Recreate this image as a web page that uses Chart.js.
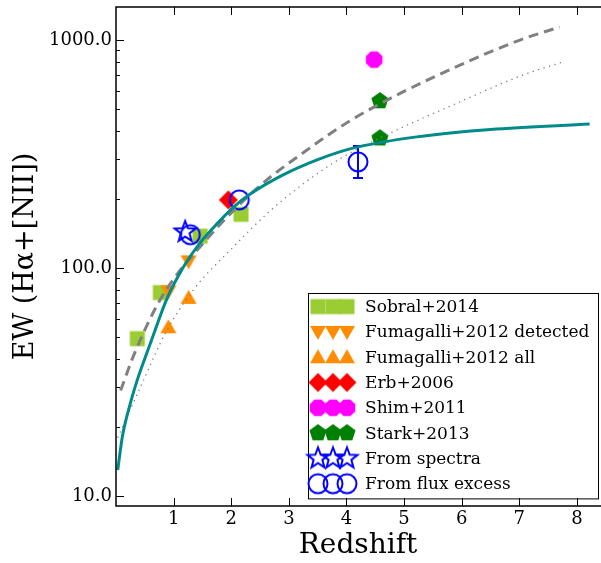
<!DOCTYPE html>
<html>
<head>
<meta charset="utf-8">
<script src="https://cdn.jsdelivr.net/npm/chart.js@4.4.1/dist/chart.umd.min.js"></script>
<style>
  html, body { margin: 0; padding: 0; background: #fff; }
  #wrap { width: 601px; height: 563px; }
</style>
</head>
<body>
<div id="wrap"><canvas id="myChart"></canvas></div>
<script>
// observed points (redshift, EW)
const sobralZ = [0.37, 0.77, 1.46, 2.17];
const sobralEW = [49, 78, 138, 172];
const fumDetZ = [0.91, 1.26];
const fumDetEW = [79, 107];
const fumAllZ = [0.91, 1.26];
const fumAllEW = [55, 74];
const erbZ = [1.95];
const erbEW = [199];
const shimZ = [4.48];
const shimEW = [820];
const starkZ = [4.58, 4.58];
const starkEW = [540, 371];
const specZ = [1.2];
const specEW = [144];
const fluxZ = [1.29, 2.14, 4.2];
const fluxEW = [140, 199, 292];
const fluxLo = [null, null, 248];
const fluxHi = [null, null, 343];

// model curves
const tealZ = [0.03, 0.11, 0.23, 0.37, 0.51, 0.68, 0.87, 1.17, 1.46, 1.76, 2.04, 2.33, 2.9, 3.49, 4.06, 4.64, 5.22, 5.8, 6.5, 8.22];
const tealEW = [13, 18.2, 24.5, 32.3, 40.7, 53.5, 72, 101, 129, 157, 185, 211, 256, 298, 333, 357, 376, 391, 405, 428];
const dashZ = [0.08, 0.33, 0.8, 1.59, 2.45, 3.32, 4.06, 4.93, 6.11, 7.01, 7.7];
const dashEW = [29, 42.8, 75, 135, 224, 330, 442, 583, 805, 1000, 1140];
const dotZ = [0.03, 0.48, 0.86, 1.34, 2.04, 2.63, 3.2, 3.94, 4.76, 5.92, 7.06, 7.76];
const dotEW = [18, 32.3, 52, 80, 124, 174, 229, 307, 391, 529, 702, 802];

// ticks
const xTicks = [1, 2, 3, 4, 5, 6, 7, 8];
const yMajor = [10, 100, 1000];
const yMinor = [20, 30, 40, 50, 60, 70, 80, 90, 200, 300, 400, 500, 600, 700, 800, 900];

const SERIF = '"DejaVu Serif", serif';

const pts = (xs, ys) => xs.map((x, i) => ({ x: x, y: ys[i] }));

function marker(kind, color) {
  const c = document.createElement('canvas');
  c.width = 28; c.height = 28;
  const g = c.getContext('2d');
  g.translate(14, 14);
  g.beginPath();
  let open = false;
  const poly = (n, r, a0) => {
    for (let k = 0; k < n; k++) {
      const a = a0 + k * 2 * Math.PI / n;
      if (k === 0) g.moveTo(r * Math.cos(a), r * Math.sin(a));
      else g.lineTo(r * Math.cos(a), r * Math.sin(a));
    }
    g.closePath();
  };
  if (kind === 'square') g.rect(-7.5, -7.5, 15, 15);
  if (kind === 'tridown') { g.moveTo(-8, -6); g.lineTo(8, -6); g.lineTo(0, 8); g.closePath(); }
  if (kind === 'triup') { g.moveTo(0, -8); g.lineTo(8, 6); g.lineTo(-8, 6); g.closePath(); }
  if (kind === 'diamond') { g.moveTo(0, -9.5); g.lineTo(9.5, 0); g.lineTo(0, 9.5); g.lineTo(-9.5, 0); g.closePath(); }
  if (kind === 'octagon') poly(8, 9, Math.PI / 8);
  if (kind === 'pentagon') poly(5, 9, -Math.PI / 2);
  if (kind === 'star') {
    for (let k = 0; k < 10; k++) {
      const r = k % 2 === 0 ? 11 : 4.6;
      const a = -Math.PI / 2 + k * Math.PI / 5;
      if (k === 0) g.moveTo(r * Math.cos(a), r * Math.sin(a));
      else g.lineTo(r * Math.cos(a), r * Math.sin(a));
    }
    g.closePath();
    open = true;
  }
  if (kind === 'circle') { g.arc(0, 0, 9.5, 0, 2 * Math.PI); open = true; }
  if (open) { g.lineWidth = 2; g.strokeStyle = color; g.stroke(); }
  else { g.fillStyle = color; g.fill(); }
  return c;
}

const series = [
  { label: 'Sobral+2014', z: sobralZ, ew: sobralEW, img: marker('square', '#9acd32') },
  { label: 'Fumagalli+2012 detected', z: fumDetZ, ew: fumDetEW, img: marker('tridown', '#ff8c00') },
  { label: 'Fumagalli+2012 all', z: fumAllZ, ew: fumAllEW, img: marker('triup', '#ff8c00') },
  { label: 'Erb+2006', z: erbZ, ew: erbEW, img: marker('diamond', '#ff0000') },
  { label: 'Shim+2011', z: shimZ, ew: shimEW, img: marker('octagon', '#ff00ff') },
  { label: 'Stark+2013', z: starkZ, ew: starkEW, img: marker('pentagon', '#008000') },
  { label: 'From spectra', z: specZ, ew: specEW, img: marker('star', '#0000ff') },
  { label: 'From flux excess', z: fluxZ, ew: fluxEW, img: marker('circle', '#0000ff') },
];

const datasets = [
  { type: 'line', data: pts(tealZ, tealEW), borderColor: '#008b8b', borderWidth: 3, pointRadius: 0,
    cubicInterpolationMode: 'monotone', order: 0 },
  { type: 'line', data: pts(dashZ, dashEW), borderColor: '#808080', borderWidth: 3, borderDash: [10, 6],
    pointRadius: 0, cubicInterpolationMode: 'monotone', order: 0 },
  { type: 'line', data: pts(dotZ, dotEW), borderColor: '#808080', borderWidth: 1.3, borderDash: [1.3, 4.4],
    pointRadius: 0, cubicInterpolationMode: 'monotone', order: 0 },
];
series.forEach((s, i) => {
  datasets.push({
    type: 'scatter', label: s.label, data: pts(s.z, s.ew),
    pointStyle: s.img, pointRadius: 9, order: series.length - i
  });
});

const noPad = s => { s.paddingLeft = 0; s.paddingRight = 0; s.paddingTop = 0; s.paddingBottom = 0; };

const decor = {
  id: 'decor',
  beforeDatasetsDraw(chart) {
    const { ctx } = chart;
    const x = chart.scales.x, y = chart.scales.y;
    ctx.save();
    ctx.strokeStyle = '#0000ff';
    ctx.lineWidth = 2;
    fluxZ.forEach((z, i) => {
      if (fluxLo[i] == null) return;
      const px = x.getPixelForValue(z);
      const lo = y.getPixelForValue(fluxLo[i]);
      const hi = y.getPixelForValue(fluxHi[i]);
      ctx.beginPath();
      ctx.moveTo(px, lo); ctx.lineTo(px, hi);
      ctx.moveTo(px - 5, lo); ctx.lineTo(px + 5, lo);
      ctx.moveTo(px - 5, hi); ctx.lineTo(px + 5, hi);
      ctx.stroke();
    });
    ctx.restore();
  },
  afterDraw(chart) {
    const { ctx, chartArea: a } = chart;
    const x = chart.scales.x, y = chart.scales.y;
    ctx.save();
    // spines
    ctx.strokeStyle = '#000';
    ctx.lineWidth = 1.5;
    ctx.beginPath();
    ctx.moveTo(a.right + 2, a.top); ctx.lineTo(a.left, a.top);
    ctx.lineTo(a.left, a.bottom); ctx.lineTo(a.right + 2, a.bottom);
    ctx.stroke();
    // inward ticks
    ctx.lineWidth = 1;
    ctx.beginPath();
    xTicks.forEach(v => {
      const px = Math.round(x.getPixelForValue(v)) + 0.5;
      ctx.moveTo(px, a.bottom); ctx.lineTo(px, a.bottom - 8);
      ctx.moveTo(px, a.top); ctx.lineTo(px, a.top + 8);
    });
    yMajor.forEach(v => {
      const py = Math.round(y.getPixelForValue(v)) + 0.5;
      ctx.moveTo(a.left, py); ctx.lineTo(a.left + 8, py);
    });
    yMinor.forEach(v => {
      const py = Math.round(y.getPixelForValue(v)) + 0.5;
      ctx.moveTo(a.left, py); ctx.lineTo(a.left + 4, py);
    });
    ctx.stroke();

    // legend
    const w = 290, rowH = 25.3;
    const h = series.length * rowH + 3;
    const bx = a.right - 2 - w, by = a.bottom - 8 - h;
    ctx.fillStyle = '#fff';
    ctx.fillRect(bx, by, w, h);
    ctx.strokeStyle = '#000';
    ctx.lineWidth = 1;
    ctx.strokeRect(Math.round(bx) + 0.5, Math.round(by) + 0.5, w, h);
    ctx.font = '17px ' + SERIF;
    ctx.fillStyle = '#000';
    ctx.textBaseline = 'middle';
    series.forEach((s, i) => {
      const cy = by + 14 + i * rowH;
      [10, 25, 39].forEach(dx => {
        ctx.drawImage(s.img, bx + dx - s.img.width / 2, cy - s.img.height / 2);
      });
      ctx.fillText(s.label, bx + 57, cy + 1);
    });
    ctx.restore();
  }
};

new Chart(document.getElementById('myChart').getContext('2d'), {
  type: 'scatter',
  data: { datasets: datasets },
  options: {
    responsive: true,
    maintainAspectRatio: false,
    animation: false,
    events: [],
    layout: { autoPadding: false, padding: { top: 7, right: 1, left: 0, bottom: 0 } },
    plugins: { legend: { display: false }, tooltip: { enabled: false } },
    scales: {
      x: {
        type: 'linear', min: 0, max: 8.4,
        grid: { display: false, drawTicks: false },
        border: { display: false },
        ticks: {
          stepSize: 1, includeBounds: false, autoSkip: false, maxRotation: 0,
          color: '#000', font: { family: SERIF, size: 18 }, padding: 3,
          callback: v => (v === 0 ? '' : String(v))
        },
        title: { display: true, text: 'Redshift', color: '#000',
          font: { family: SERIF, size: 28 }, padding: { top: 0, bottom: 0 } },
        afterFit: s => { s.height = 57; noPad(s); }
      },
      y: {
        type: 'logarithmic', min: 9.04, max: 1396,
        grid: { display: false, drawTicks: false },
        border: { display: false },
        afterBuildTicks: s => {
          s.ticks = yMajor.concat(yMinor).sort((p, q) => p - q).map(v => ({ value: v }));
        },
        ticks: {
          autoSkip: false, color: '#000', font: { family: SERIF, size: 18 }, padding: 4,
          callback: v => (yMajor.includes(v) ? v.toFixed(1) : '')
        },
        title: { display: true, text: 'EW (Hα+[NII])', color: '#000',
          font: { family: SERIF, size: 27 }, padding: { top: 10, bottom: 0 } },
        afterFit: s => { s.width = 116; noPad(s); }
      }
    }
  },
  plugins: [decor]
});
</script>
</body>
</html>
